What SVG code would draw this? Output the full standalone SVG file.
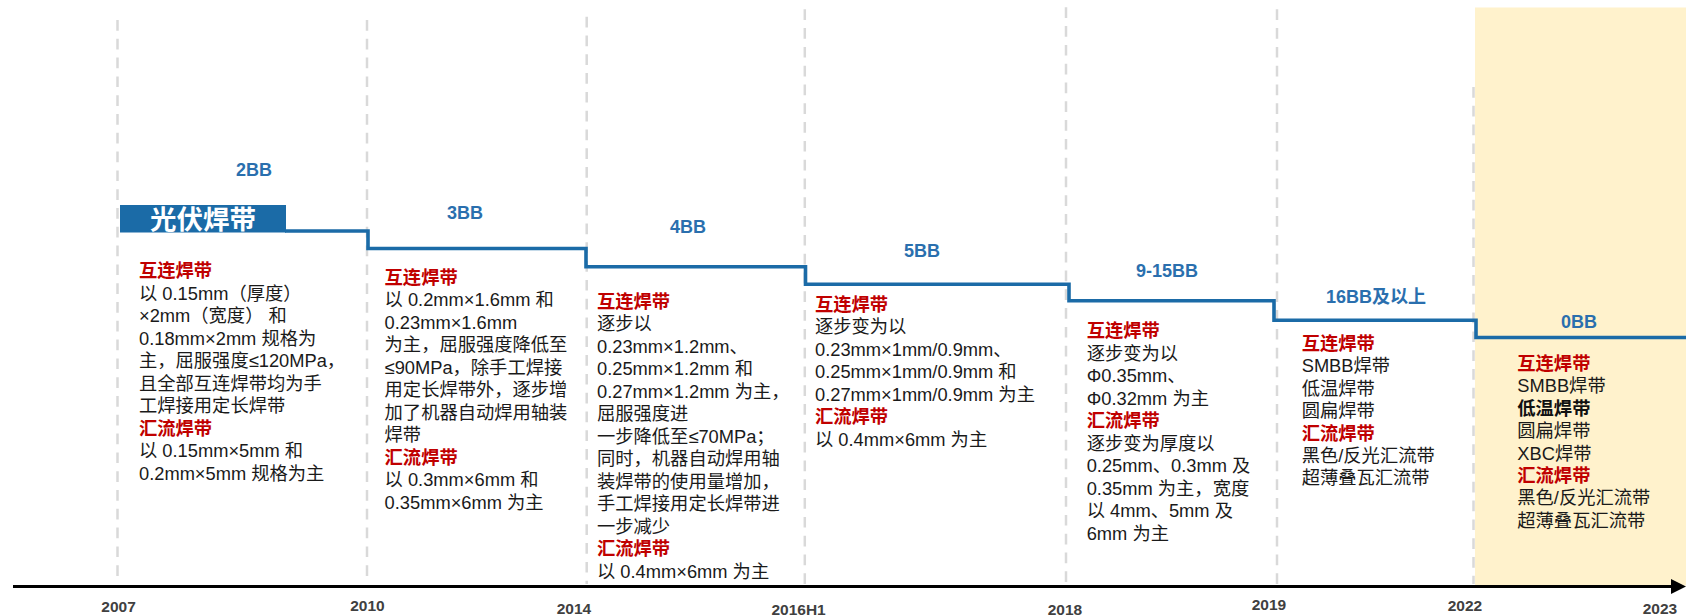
<svg xmlns="http://www.w3.org/2000/svg" width="1686" height="615" viewBox="0 0 1686 615">
<style>
.f{font-family:"Liberation Sans","Noto Sans CJK SC",sans-serif}
.body{font-size:18.3px;fill:#1a1a1a}
.h{font-weight:bold;fill:#c00000}
.b{font-weight:bold;fill:#111}
.bb{font-size:18px;font-weight:bold;fill:#2a6fae;text-anchor:middle}
.yr{font-size:15.5px;font-weight:bold;fill:#404040;text-anchor:middle}
.grid{stroke:#d9d9d9;stroke-width:2.5;stroke-dasharray:10.7 8.1;fill:none}
.step{stroke:#1b6ba7;stroke-width:3.6;fill:none;stroke-linejoin:miter}
</style>
<rect width="1686" height="615" fill="#ffffff"/>
<rect id="highlight" x="1475" y="7.5" width="211" height="578" fill="#fff2cc"/>
<g id="gridlines">
<line class="grid" x1="117.5" y1="20" x2="117.5" y2="584"/>
<line class="grid" x1="367" y1="20" x2="367" y2="584"/>
<line class="grid" x1="586.7" y1="16.7" x2="586.7" y2="584"/>
<line class="grid" x1="804.8" y1="9.3" x2="804.8" y2="584"/>
<line class="grid" x1="1066" y1="7.3" x2="1066" y2="584"/>
<line class="grid" x1="1277" y1="9.3" x2="1277" y2="584"/>
<line class="grid" x1="1473.5" y1="87" x2="1473.5" y2="584"/>
</g>
<g id="connectors">
<path class="step" d="M285 231 H368 V248.5 H586 V266.7 H805.5 V284.3 H1069 V300.8 H1274 V320.2 H1476 V337.5 H1686"/>
<line x1="13" y1="586.5" x2="1674" y2="586.5" stroke="#000" stroke-width="3"/>
<polygon points="1671,579 1686,586.5 1671,594" fill="#000"/>
</g>
<g id="title">
<rect x="120" y="205" width="166" height="27.5" fill="#1b6ba7"/>
<text class="f" x="150" y="229" font-size="26.5" font-weight="bold" fill="#ffffff">光伏焊带</text>
</g>
<g id="stage-labels" class="f">
<text class="bb" x="254" y="175.5">2BB</text>
<text class="bb" x="465" y="219">3BB</text>
<text class="bb" x="688" y="233">4BB</text>
<text class="bb" x="922" y="256.5">5BB</text>
<text class="bb" x="1167" y="276.5">9-15BB</text>
<text class="bb" x="1376" y="303">16BB及以上</text>
<text class="bb" x="1579" y="328">0BB</text>
</g>
<g id="years" class="f">
<text class="yr" x="118.6" y="611.5">2007</text>
<text class="yr" x="367.4" y="610.5">2010</text>
<text class="yr" x="574" y="614">2014</text>
<text class="yr" x="798.6" y="614.5">2016H1</text>
<text class="yr" x="1065" y="615">2018</text>
<text class="yr" x="1269" y="610">2019</text>
<text class="yr" x="1465" y="611">2022</text>
<text class="yr" x="1660" y="614">2023</text>
</g>
<g id="stage-2BB">
<text class="f body" x="139" y="277.2">
<tspan class="h" x="139" dy="0">互连焊带</tspan>
<tspan x="139" dy="22.5">以 0.15mm（厚度）</tspan>
<tspan x="139" dy="22.5">×2mm（宽度） 和</tspan>
<tspan x="139" dy="22.5">0.18mm×2mm 规格为</tspan>
<tspan x="139" dy="22.5">主，屈服强度≤120MPa，</tspan>
<tspan x="139" dy="22.5">且全部互连焊带均为手</tspan>
<tspan x="139" dy="22.5">工焊接用定长焊带</tspan>
<tspan class="h" x="139" dy="22.5">汇流焊带</tspan>
<tspan x="139" dy="22.5">以 0.15mm×5mm 和</tspan>
<tspan x="139" dy="22.5">0.2mm×5mm 规格为主</tspan>
</text>
</g>
<g id="stage-3BB">
<text class="f body" x="384.6" y="283.5">
<tspan class="h" x="384.6" dy="0">互连焊带</tspan>
<tspan x="384.6" dy="22.5">以 0.2mm×1.6mm 和</tspan>
<tspan x="384.6" dy="22.5">0.23mm×1.6mm</tspan>
<tspan x="384.6" dy="22.5">为主，屈服强度降低至</tspan>
<tspan x="384.6" dy="22.5">≤90MPa，除手工焊接</tspan>
<tspan x="384.6" dy="22.5">用定长焊带外，逐步增</tspan>
<tspan x="384.6" dy="22.5">加了机器自动焊用轴装</tspan>
<tspan x="384.6" dy="22.5">焊带</tspan>
<tspan class="h" x="384.6" dy="22.5">汇流焊带</tspan>
<tspan x="384.6" dy="22.5">以 0.3mm×6mm 和</tspan>
<tspan x="384.6" dy="22.5">0.35mm×6mm 为主</tspan>
</text>
</g>
<g id="stage-4BB">
<text class="f body" x="597" y="307.5">
<tspan class="h" x="597" dy="0">互连焊带</tspan>
<tspan x="597" dy="22.5">逐步以</tspan>
<tspan x="597" dy="22.5">0.23mm×1.2mm、</tspan>
<tspan x="597" dy="22.5">0.25mm×1.2mm 和</tspan>
<tspan x="597" dy="22.5">0.27mm×1.2mm 为主，</tspan>
<tspan x="597" dy="22.5">屈服强度进</tspan>
<tspan x="597" dy="22.5">一步降低至≤70MPa；</tspan>
<tspan x="597" dy="22.5">同时，机器自动焊用轴</tspan>
<tspan x="597" dy="22.5">装焊带的使用量增加，</tspan>
<tspan x="597" dy="22.5">手工焊接用定长焊带进</tspan>
<tspan x="597" dy="22.5">一步减少</tspan>
<tspan class="h" x="597" dy="22.5">汇流焊带</tspan>
<tspan x="597" dy="22.5">以 0.4mm×6mm 为主</tspan>
</text>
</g>
<g id="stage-5BB">
<text class="f body" x="815" y="310.5">
<tspan class="h" x="815" dy="0">互连焊带</tspan>
<tspan x="815" dy="22.5">逐步变为以</tspan>
<tspan x="815" dy="22.5">0.23mm×1mm/0.9mm、</tspan>
<tspan x="815" dy="22.5">0.25mm×1mm/0.9mm 和</tspan>
<tspan x="815" dy="22.5">0.27mm×1mm/0.9mm 为主</tspan>
<tspan class="h" x="815" dy="22.5">汇流焊带</tspan>
<tspan x="815" dy="22.5">以 0.4mm×6mm 为主</tspan>
</text>
</g>
<g id="stage-9-15BB">
<text class="f body" x="1086.7" y="337.2">
<tspan class="h" x="1086.7" dy="0">互连焊带</tspan>
<tspan x="1086.7" dy="22.5">逐步变为以</tspan>
<tspan x="1086.7" dy="22.5">Φ0.35mm、</tspan>
<tspan x="1086.7" dy="22.5">Φ0.32mm 为主</tspan>
<tspan class="h" x="1086.7" dy="22.5">汇流焊带</tspan>
<tspan x="1086.7" dy="22.5">逐步变为厚度以</tspan>
<tspan x="1086.7" dy="22.5">0.25mm、0.3mm 及</tspan>
<tspan x="1086.7" dy="22.5">0.35mm 为主，宽度</tspan>
<tspan x="1086.7" dy="22.5">以 4mm、5mm 及</tspan>
<tspan x="1086.7" dy="22.5">6mm 为主</tspan>
</text>
</g>
<g id="stage-16BB">
<text class="f body" x="1301.7" y="350">
<tspan class="h" x="1301.7" dy="0">互连焊带</tspan>
<tspan x="1301.7" dy="22.4">SMBB焊带</tspan>
<tspan x="1301.7" dy="22.4">低温焊带</tspan>
<tspan x="1301.7" dy="22.4">圆扁焊带</tspan>
<tspan class="h" x="1301.7" dy="22.4">汇流焊带</tspan>
<tspan x="1301.7" dy="22.4">黑色/反光汇流带</tspan>
<tspan x="1301.7" dy="22.4">超薄叠瓦汇流带</tspan>
</text>
</g>
<g id="stage-0BB">
<text class="f body" x="1517.3" y="370">
<tspan class="h" x="1517.3" dy="0">互连焊带</tspan>
<tspan x="1517.3" dy="22.4">SMBB焊带</tspan>
<tspan class="b" x="1517.3" dy="22.4">低温焊带</tspan>
<tspan x="1517.3" dy="22.4">圆扁焊带</tspan>
<tspan x="1517.3" dy="22.4">XBC焊带</tspan>
<tspan class="h" x="1517.3" dy="22.4">汇流焊带</tspan>
<tspan x="1517.3" dy="22.4">黑色/反光汇流带</tspan>
<tspan x="1517.3" dy="22.4">超薄叠瓦汇流带</tspan>
</text>
</g>
</svg>
